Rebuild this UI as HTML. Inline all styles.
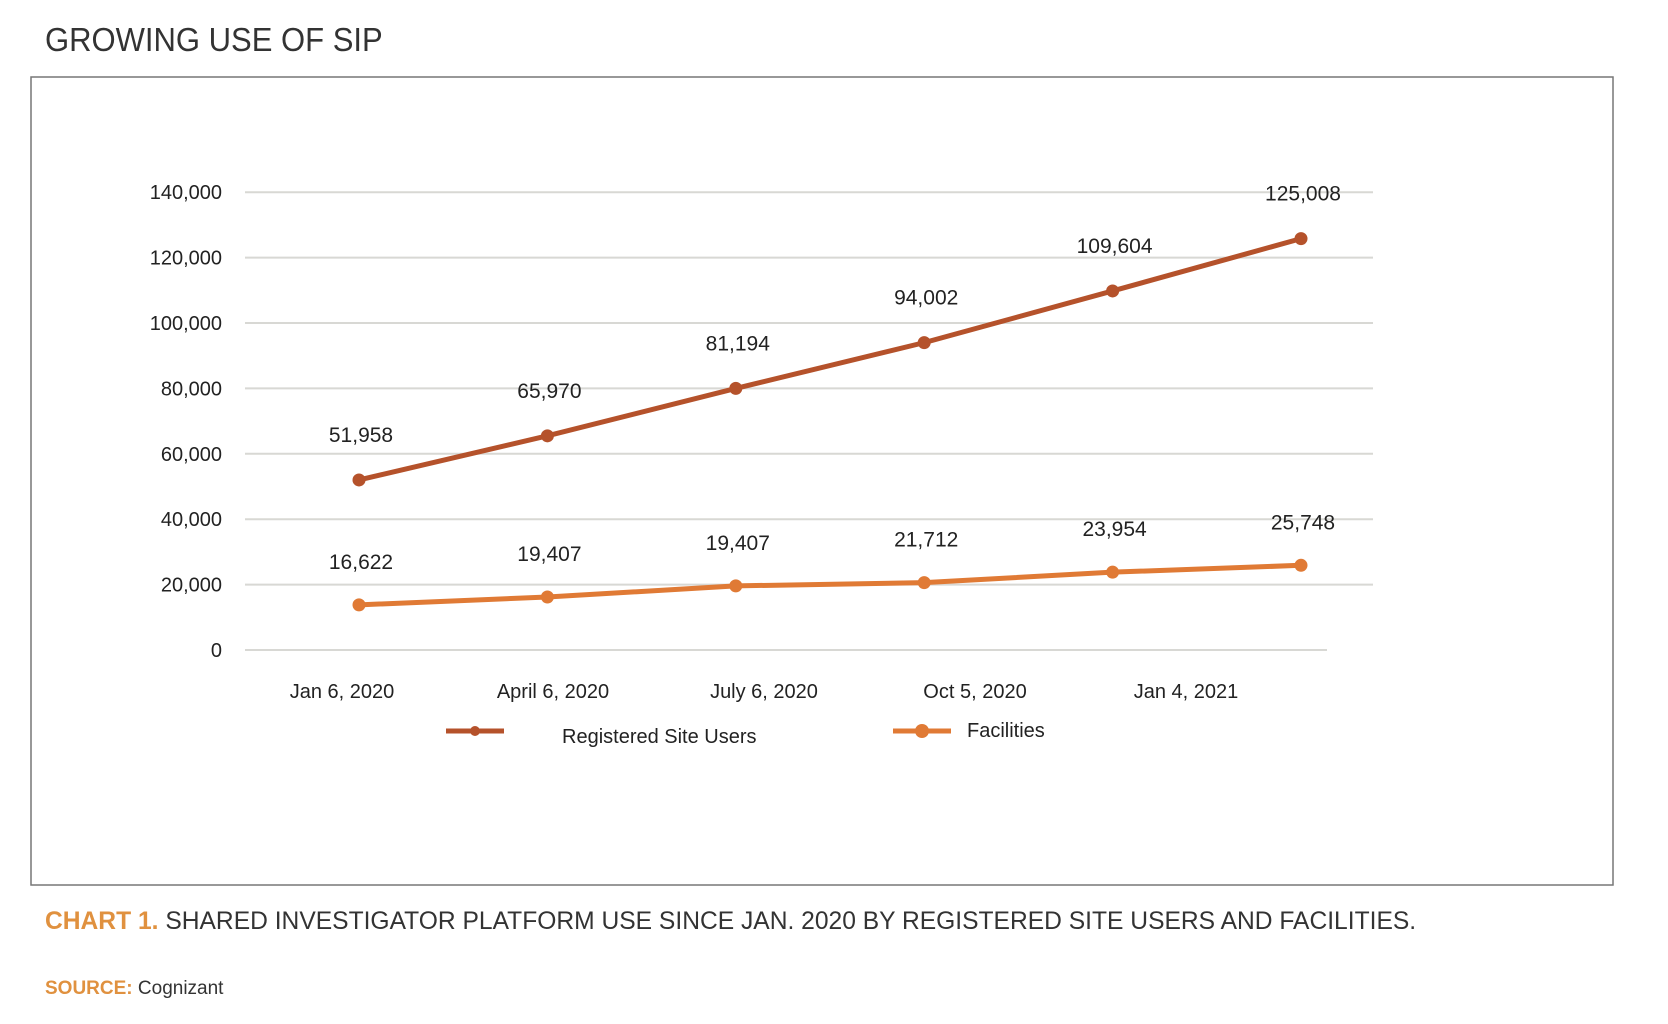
<!DOCTYPE html>
<html><head><meta charset="utf-8"><style>
body{margin:0;background:#fff;width:1668px;height:1024px;overflow:hidden;font-family:"Liberation Sans",sans-serif}
svg{position:absolute;left:0;top:0}
</style></head><body>
<svg width="1668" height="1024">
<text x="45" y="51" font-size="33" fill="#333" transform="translate(45,51) scale(0.94,1) translate(-45,-51)">GROWING USE OF SIP</text>
<rect x="31" y="77" width="1582" height="808" fill="none" stroke="#777" stroke-width="1.5"/>
<g id="grid"></g><g id="yt"></g><g id="xt"></g><g id="series"></g>
<g>
<line x1="446" y1="731" x2="504" y2="731" stroke="#b5522b" stroke-width="5"/>
<circle cx="475" cy="731" r="5" fill="#b5522b"/>
<text x="562" y="743" font-size="20" fill="#222">Registered Site Users</text>
<line x1="893" y1="731" x2="951" y2="731" stroke="#e07a35" stroke-width="5"/>
<circle cx="922" cy="731" r="7" fill="#e07a35"/>
<text x="967" y="737" font-size="20" fill="#222">Facilities</text>
</g>
<text x="45" y="929" font-size="25" fill="#333" transform="translate(45,929) scale(0.985,1) translate(-45,-929)"><tspan fill="#e0913f" font-weight="bold">CHART 1.</tspan> SHARED INVESTIGATOR PLATFORM USE SINCE JAN. 2020 BY REGISTERED SITE USERS AND FACILITIES.</text>
<text x="45" y="994" font-size="19" fill="#333"><tspan fill="#e0913f" font-weight="bold">SOURCE:</tspan> Cognizant</text>
</svg>
<script>
const categories=["Jan 6, 2020","April 6, 2020","July 6, 2020","Oct 5, 2020","Jan 4, 2021",""];
const registeredValues=[52000,65500,80000,94000,109800,125800];
const registeredLabels=["51,958","65,970","81,194","94,002","109,604","125,008"];
const facilitiesValues=[13800,16200,19600,20600,23800,25900];
const facilitiesLabels=["16,622","19,407","19,407","21,712","23,954","25,748"];
const yTicks=[0,20000,40000,60000,80000,100000,120000,140000];
const NS="http://www.w3.org/2000/svg";
const y0=650,yPer=65.4/20000;
function yS(v){return y0-v*yPer;}
function xS(i){return 359+i*188.4;}
function xBand(i){return 342+i*211;}
function mk(tag,attrs,parent){const e=document.createElementNS(NS,tag);for(const k in attrs)e.setAttribute(k,attrs[k]);document.getElementById(parent).appendChild(e);return e;}
yTicks.forEach(t=>{
 const l=mk('line',{x1:245,x2:t===0?1327:1373,y1:yS(t),y2:yS(t),stroke:'#d8d8d4','stroke-width':2},'grid');
 
 
 const tx=mk('text',{x:222,y:yS(t)+7,'text-anchor':'end','font-size':20,fill:'#222'},'yt');
 tx.textContent=t.toLocaleString('en-US');
 
 
});
categories.forEach((c,i)=>{if(!c)return;
 const tx=mk('text',{x:xBand(i),y:698,'text-anchor':'middle','font-size':20,fill:'#222'},'xt');
 tx.textContent=c;
 
 
});
function series(vals,labels,color,r,name,off){
 const pts=vals.map((v,i)=>xS(i)+','+yS(v)).join(' ');
 const pl=mk('polyline',{points:pts,fill:'none',stroke:color,'stroke-width':5,'stroke-linejoin':'round'},'series');
 
 
 vals.forEach((v,i)=>{
  const c=mk('circle',{cx:xS(i),cy:yS(v),r:r,fill:color},'series');
  
  
  const t=mk('text',{x:xS(i)+2,y:yS(v)-off,'text-anchor':'middle','font-size':21,fill:'#222'},'series');
  t.textContent=labels[i];
  
  
 });
}
series(registeredValues,registeredLabels,'#b5522b',6.5,'registered',38);
series(facilitiesValues,facilitiesLabels,'#e07a35',6.5,'facilities',36);
</script>
</body></html>
